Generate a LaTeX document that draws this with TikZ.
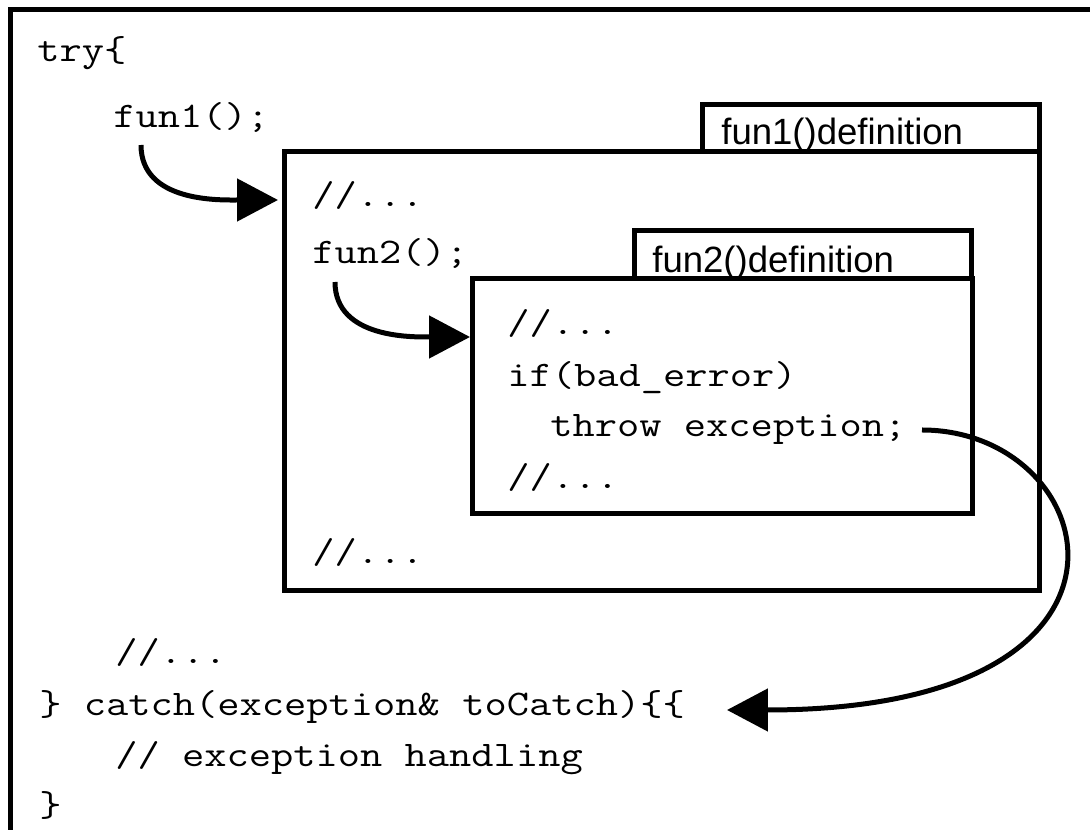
\documentclass[tikz,border=0pt]{standalone}
\usepackage{fontspec}
\setmainfont{Liberation Sans}
\setmonofont[FakeStretch=1.2]{Latin Modern Mono}
\usetikzlibrary{arrows.meta,fit}
\tikzset{
  code/.style={anchor=base west,inner sep=0pt,font=\ttfamily\fontsize{20.5}{25}\selectfont},
  lbl/.style={anchor=base west,inner sep=0pt,font=\fontsize{20.8}{25}\selectfont},
  codebox/.style={draw,line width=0.1cm,inner sep=0pt},
  call/.style={line width=0.1cm,-{Triangle[length=0.82cm,width=0.84cm]}}
}

\begin{document}
\begin{tikzpicture}[x=0.02cm,y=-0.02cm]
  \useasboundingbox (0,0) rectangle (1090,830);
  \clip (0,0) rectangle (1090,830);
  % outer frame runs off the page to the right and below
  \node[codebox,fit={(10.5,9.5) (1150,900)}] (outer) {};
  % function bodies with their title tabs
  \node[codebox,fit={(284.5,152) (1039,591)}] (fun1box) {};
  \node[codebox,fit={(702.5,105) (1039,152)}] (fun1head) {};
  \node[codebox,fit={(472,279) (972,514)}] (fun2box) {};
  \node[codebox,fit={(634.5,230.5) (971,279)}] (fun2head) {};
  \node[lbl] (fun1name) at (721,145) {fun1()definition};
  \node[lbl] (fun2name) at (652,273) {fun2()definition};

  % caller
  \node[code] (try) at (37,62) {try\{};
  \node[code] (call1) at (113,128) {fun1();};
  \node[code] (rest) at (115,664) {//...};
  \node[code] (catch) at (39,716) {\} catch(exception\& toCatch)\{\{};
  \node[code] (handle) at (115,767) {// exception handling};
  \node[code] (close) at (39,817) {\}};

  % fun1 body
  \node[code] (a1) at (312,207) {//...};
  \node[code] (call2) at (312,264) {fun2();};
  \node[code] (a2) at (312,564) {//...};

  % fun2 body
  \node[code] (b1) at (507,335) {//...};
  \node[code] (test) at (507,387) {if(bad\_error)};
  \node[code] (throw) at (550,437) {throw exception;};
  \node[code] (b2) at (507,489) {//...};

  % control flow
  \coordinate (s1) at (141,145);
  \coordinate (t1) at (278,200);
  \coordinate (s2) at (335,282);
  \coordinate (t2) at (470,337);
  \coordinate (s3) at (922,430);
  \coordinate (t3) at (727,710);
  \draw[call] (s1) to[out=-90,in=180] (t1);
  \draw[call] (s2) to[out=-90,in=180] (t2);
  \draw[call] (s3) .. controls (1104,430) and (1178,710) .. (t3);
\end{tikzpicture}
\end{document}
